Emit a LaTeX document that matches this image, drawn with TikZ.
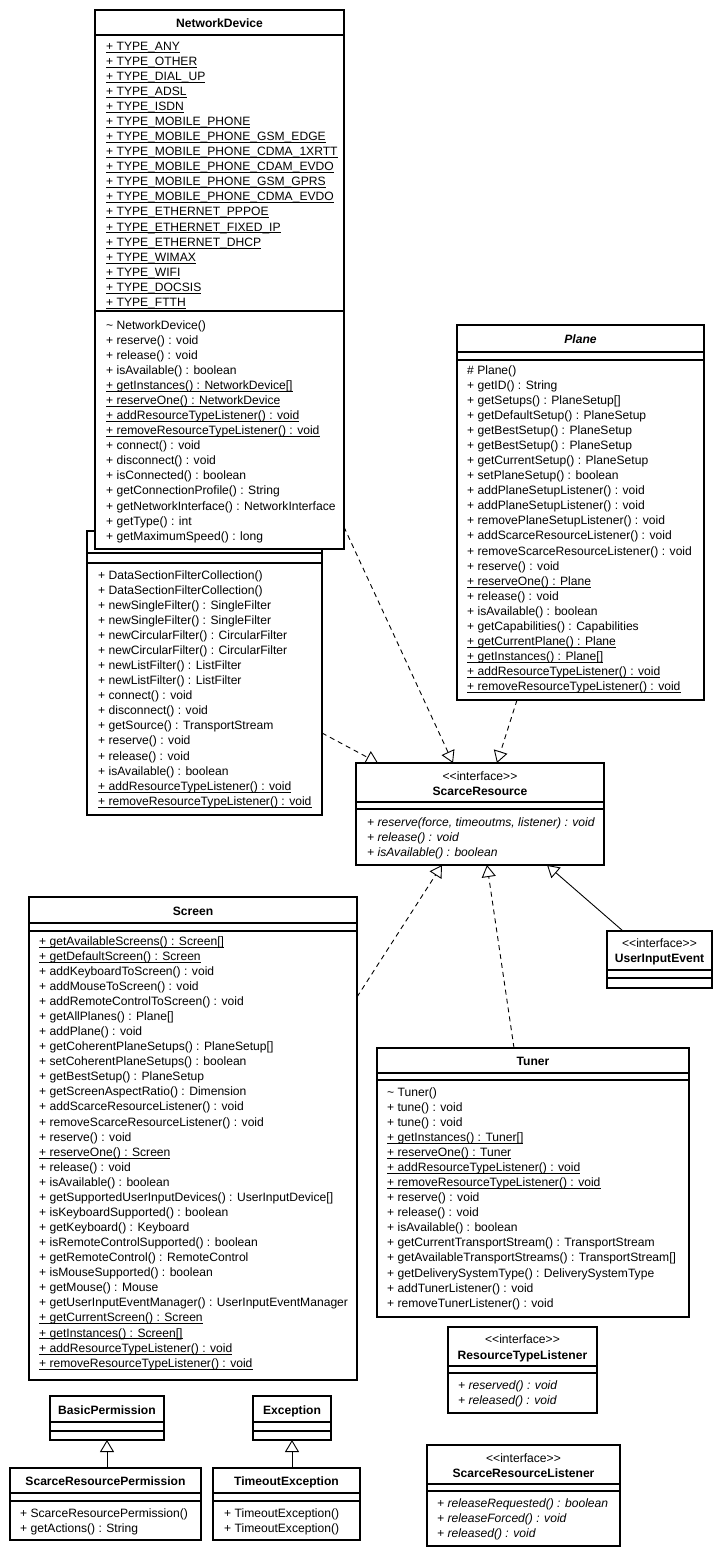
\documentclass[tikz,border=0pt]{standalone}
\usepackage{fontspec}
\setmainfont{Liberation Sans}
\usetikzlibrary{arrows.meta,calc}
\newcommand\uln[1]{\setbox0\hbox{#1}\rlap{\rule[-2.3pt]{\wd0}{0.9pt}}\box0}
\newcommand\stereo{<\kern0pt<interface>\kern0pt>}
\begin{document}
\begin{tikzpicture}[x=1pt,y=-1pt,
  every node/.style={font=\fontsize{12.1}{14}\selectfont},
  cls/.style={draw, fill=white, line width=1.8pt, inner sep=0pt, outer sep=0pt},
  sepl/.style={line width=1.2pt},
  nm/.style={anchor=base, inner sep=0pt, font=\fontsize{12.1}{14}\selectfont\bfseries},
  txt/.style={anchor=base west, inner sep=0pt},
  tri/.style={-{Triangle[open,length=12pt,width=14pt,line width=0.9pt]}},
  dep/.style={tri, line width=0.9pt, dash pattern=on 5pt off 4pt},
  gen/.style={tri, line width=0.9pt}]
\newcommand\umlclass[5]{\node[cls, minimum width={(#4-#2)*1pt}, minimum height={(#5-#3)*1pt}, anchor=north west] (#1) at (#2,#3) {};}
\newcommand\csep[3]{\draw[sepl] (#1,#3) -- (#2,#3);}
\newcommand\cnm[4]{\node[nm] (#1) at (#2,{#3+4.2}) {#4};}
\newcommand\mlines[5]{\foreach \t [count=\i from 0] in {#5} {\node[txt] (#1\i) at (#2,{#3+\i*15.07+4.2}) {#4\t};}}
\useasboundingbox (0,0) rectangle (724,1557);
\fill[white] (0,0) rectangle (724,1557);

% DataSectionFilterCollection (partly hidden)
\umlclass{ds}{87}{531}{322}{815}
\csep{87}{322}{553}
\csep{87}{322}{563}
\mlines{dsm}{98}{575}{}{
+ DataSectionFilterCollection(),
+ DataSectionFilterCollection(),
+ newSingleFilter() : SingleFilter,
+ newSingleFilter() : SingleFilter,
+ newCircularFilter() : CircularFilter,
+ newCircularFilter() : CircularFilter,
+ newListFilter() : ListFilter,
+ newListFilter() : ListFilter,
+ connect() : void,
+ disconnect() : void,
+ getSource() : TransportStream,
+ reserve() : void,
+ release() : void,
+ isAvailable() : boolean,
\uln{+ addResourceTypeListener() : void},
\uln{+ removeResourceTypeListener() : void}}

% NetworkDevice
\umlclass{nd}{95}{10}{344}{549}
\cnm{ndn}{219.5}{23}{NetworkDevice}
\csep{95}{344}{35}
\mlines{nda}{106}{46}{}{
\uln{+ TYPE\_ANY},
\uln{+ TYPE\_OTHER},
\uln{+ TYPE\_DIAL\_UP},
\uln{+ TYPE\_ADSL},
\uln{+ TYPE\_ISDN},
\uln{+ TYPE\_MOBILE\_PHONE},
\uln{+ TYPE\_MOBILE\_PHONE\_GSM\_EDGE},
\uln{+ TYPE\_MOBILE\_PHONE\_CDMA\_1XRTT},
\uln{+ TYPE\_MOBILE\_PHONE\_CDAM\_EVDO},
\uln{+ TYPE\_MOBILE\_PHONE\_GSM\_GPRS},
\uln{+ TYPE\_MOBILE\_PHONE\_CDMA\_EVDO},
\uln{+ TYPE\_ETHERNET\_PPPOE},
\uln{+ TYPE\_ETHERNET\_FIXED\_IP},
\uln{+ TYPE\_ETHERNET\_DHCP},
\uln{+ TYPE\_WIMAX},
\uln{+ TYPE\_WIFI},
\uln{+ TYPE\_DOCSIS},
\uln{+ TYPE\_FTTH}}
\csep{95}{344}{311}
\mlines{ndm}{106}{325}{}{
\textasciitilde{} NetworkDevice(),
+ reserve() : void,
+ release() : void,
+ isAvailable() : boolean,
\uln{+ getInstances() : NetworkDevice[]},
\uln{+ reserveOne() : NetworkDevice},
\uln{+ addResourceTypeListener() : void},
\uln{+ removeResourceTypeListener() : void},
+ connect() : void,
+ disconnect() : void,
+ isConnected() : boolean,
+ getConnectionProfile() : String,
+ getNetworkInterface() : NetworkInterface,
+ getType() : int,
+ getMaximumSpeed() : long}

% Plane
\umlclass{pl}{457}{325}{704}{700}
\cnm{pln}{580.5}{339}{\itshape Plane}
\csep{457}{704}{352}
\csep{457}{704}{360}
\mlines{plm}{467}{370}{}{
\# Plane(),
+ getID() : String,
+ getSetups() : PlaneSetup[],
+ getDefaultSetup() : PlaneSetup,
+ getBestSetup() : PlaneSetup,
+ getBestSetup() : PlaneSetup,
+ getCurrentSetup() : PlaneSetup,
+ setPlaneSetup() : boolean,
+ addPlaneSetupListener() : void,
+ addPlaneSetupListener() : void,
+ removePlaneSetupListener() : void,
+ addScarceResourceListener() : void,
+ removeScarceResourceListener() : void,
+ reserve() : void,
\uln{+ reserveOne() : Plane},
+ release() : void,
+ isAvailable() : boolean,
+ getCapabilities() : Capabilities,
\uln{+ getCurrentPlane() : Plane},
\uln{+ getInstances() : Plane[]},
\uln{+ addResourceTypeListener() : void},
\uln{+ removeResourceTypeListener() : void}}

% ScarceResource
\umlclass{sr}{356}{763}{604}{865}
\node[txt, anchor=base] (srs) at (480,{776+4.2}) {\stereo};
\cnm{srn}{480}{791}{ScarceResource}
\csep{356}{604}{802}
\csep{356}{604}{809}
\mlines{srm}{367}{822}{\itshape}{
{+ reserve(force, timeoutms, listener) : void},
+ release() : void,
+ isAvailable() : boolean}

% UserInputEvent
\umlclass{uie}{607}{931}{712}{988}
\node[txt, anchor=base] (uies) at (659.5,{943+4.2}) {\stereo};
\cnm{uien}{659.5}{958}{UserInputEvent}
\csep{607}{712}{970}
\csep{607}{712}{978}

% Screen
\umlclass{scr}{29}{897}{357}{1380}
\cnm{scrn}{193}{911}{Screen}
\csep{29}{357}{923}
\csep{29}{357}{931}
\mlines{scrm}{39}{941}{}{
\uln{+ getAvailableScreens() : Screen[]},
\uln{+ getDefaultScreen() : Screen},
+ addKeyboardToScreen() : void,
+ addMouseToScreen() : void,
+ addRemoteControlToScreen() : void,
+ getAllPlanes() : Plane[],
+ addPlane() : void,
+ getCoherentPlaneSetups() : PlaneSetup[],
+ setCoherentPlaneSetups() : boolean,
+ getBestSetup() : PlaneSetup,
+ getScreenAspectRatio() : Dimension,
+ addScarceResourceListener() : void,
+ removeScarceResourceListener() : void,
+ reserve() : void,
\uln{+ reserveOne() : Screen},
+ release() : void,
+ isAvailable() : boolean,
+ getSupportedUserInputDevices() : UserInputDevice[],
+ isKeyboardSupported() : boolean,
+ getKeyboard() : Keyboard,
+ isRemoteControlSupported() : boolean,
+ getRemoteControl() : RemoteControl,
+ isMouseSupported() : boolean,
+ getMouse() : Mouse,
+ getUserInputEventManager() : UserInputEventManager,
\uln{+ getCurrentScreen() : Screen},
\uln{+ getInstances() : Screen[]},
\uln{+ addResourceTypeListener() : void},
\uln{+ removeResourceTypeListener() : void}}

% Tuner
\umlclass{tu}{377}{1048}{689}{1317}
\cnm{tun}{533}{1061}{Tuner}
\csep{377}{689}{1073}
\csep{377}{689}{1080}
\mlines{tum}{387}{1092}{}{
\textasciitilde{} Tuner(),
+ tune() : void,
+ tune() : void,
\uln{+ getInstances() : Tuner[]},
\uln{+ reserveOne() : Tuner},
\uln{+ addResourceTypeListener() : void},
\uln{+ removeResourceTypeListener() : void},
+ reserve() : void,
+ release() : void,
+ isAvailable() : boolean,
+ getCurrentTransportStream() : TransportStream,
+ getAvailableTransportStreams() : TransportStream[],
+ getDeliverySystemType() : DeliverySystemType,
+ addTunerListener() : void,
+ removeTunerListener() : void}

% ResourceTypeListener
\umlclass{rtl}{448}{1327}{597}{1413}
\node[txt, anchor=base] (rtls) at (522.5,{1339+4.2}) {\stereo};
\cnm{rtln}{522.5}{1355}{ResourceTypeListener}
\csep{448}{597}{1366}
\csep{448}{597}{1373}
\mlines{rtlm}{458}{1385}{\itshape}{
+ reserved() : void,
+ released() : void}

% ScarceResourceListener
\umlclass{srl}{427}{1445}{620}{1546}
\node[txt, anchor=base] (srls) at (523.5,{1458+4.2}) {\stereo};
\cnm{srln}{523.5}{1473}{ScarceResourceListener}
\csep{427}{620}{1484}
\csep{427}{620}{1491}
\mlines{srlm}{437}{1503}{\itshape}{
+ releaseRequested() : boolean,
+ releaseForced() : void,
+ released() : void}

% BasicPermission
\umlclass{bp}{50}{1396}{164}{1440}
\cnm{bpn}{107}{1410}{BasicPermission}
\csep{50}{164}{1422}
\csep{50}{164}{1431}

% Exception
\umlclass{ex}{253}{1396}{331}{1440}
\cnm{exn}{292}{1410}{Exception}
\csep{253}{331}{1422}
\csep{253}{331}{1431}

% ScarceResourcePermission
\umlclass{srp}{10}{1468}{201}{1540}
\cnm{srpn}{105.5}{1481}{ScarceResourcePermission}
\csep{10}{201}{1493}
\csep{10}{201}{1501}
\mlines{srpm}{20}{1513}{}{
+ ScarceResourcePermission(),
+ getActions() : String}

% TimeoutException
\umlclass{te}{213}{1468}{360}{1540}
\cnm{ten}{286.5}{1481}{TimeoutException}
\csep{213}{360}{1493}
\csep{213}{360}{1501}
\mlines{tem}{224}{1513}{}{
+ TimeoutException(),
+ TimeoutException()}

% connectors
\draw[dep] ($(nd.north east)+(0,517)$) -- ($(sr.north west)+(97,0)$);
\draw[dep] ($(ds.north east)+(0,202)$) -- ($(sr.north west)+(22,0)$);
\draw[dep] ($(pl.south west)+(60,0)$) -- ($(sr.north west)+(141,0)$);
\draw[dep] ($(scr.north east)+(0,100)$) -- ($(sr.south west)+(86,0)$);
\draw[dep] ($(tu.north west)+(137,0)$) -- ($(sr.south west)+(131,0)$);
\draw[gen] ($(uie.north west)+(16,0)$) -- ($(sr.south west)+(191,0)$);
\draw[gen] ($(srp.north west)+(97,0)$) -- ($(bp.south west)+(57,0)$);
\draw[gen] ($(te.north west)+(79,0)$) -- ($(ex.south west)+(39,0)$);
\end{tikzpicture}
\end{document}
